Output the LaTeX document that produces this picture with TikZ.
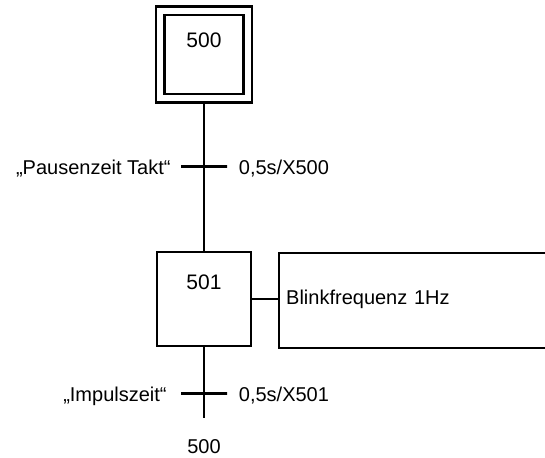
\documentclass[tikz,border=0pt]{standalone}
\usepackage{fontspec}
\setmainfont{Liberation Sans}
\usetikzlibrary{positioning}
\begin{document}
\begin{tikzpicture}[x=1pt, y=-1pt, line width=2.4pt,
	every node/.style={font=\fontsize{20}{24}\selectfont, inner sep=0pt},
	initstep/.style={draw, double, double distance=6.1pt, outer sep=5.45pt, minimum width=87.5pt, minimum height=87.5pt},
	stepbox/.style={draw, minimum width=94pt, minimum height=94pt},
	steplabel/.style={anchor=center, font=\fontsize{21}{24}\selectfont, yshift=-31pt},
	tbar/.style={draw, minimum width=46pt, minimum height=0pt},
	tlabel/.style={yshift=-2.5pt},
	actionbox/.style={draw, anchor=west, minimum height=95pt, text width=290pt, inner xsep=7pt, align=left, text height=0.87em, text depth=0pt}]
				\useasboundingbox (0,0) rectangle (545,457);
				\clip (0,0) rectangle (545,457);
				
				\def\cx{204}
				
				\node[initstep, label={[steplabel, yshift=-4.2pt]north:500}] (s500) at (\cx,54.5) {};
				\node[tbar] (t1) at (\cx,166.5) {};
				\node[stepbox, label={[steplabel]north:501}] (s501) at (\cx,299) {};
				\node[actionbox] (a1) at (278,300.5) {Blinkfrequenz 1Hz};
				\node[tbar] (t2) at (\cx,393.5) {};
				\coordinate (e1) at (\cx,418);
				
				\node[tlabel, left=8pt of t1] (t1cond) {„Pausenzeit Takt“};
				\node[tlabel, right=9.5pt of t1] (t1time) {0,5s/X500};
				\node[tlabel, left=12pt of t2] (t2cond) {„Impulszeit“};
				\node[tlabel, right=9.5pt of t2] (t2time) {0,5s/X501};
				\node[below=20pt of e1] (next) {500};
				
				\draw (s500.south) -- (s501.north);
				\draw (s501.south) -- (e1);
				\draw (s501.east) -- (s501.east -| a1.west);
				
			\end{tikzpicture}
\end{document}
